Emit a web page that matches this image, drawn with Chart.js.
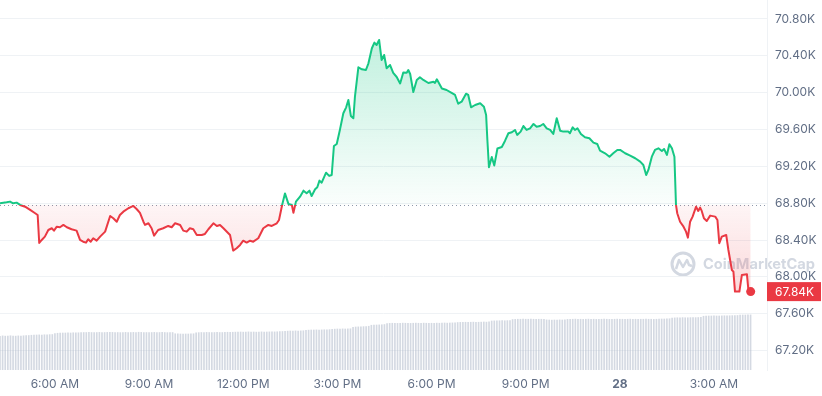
<!DOCTYPE html>
<html><head><meta charset="utf-8">
<script src="https://cdn.jsdelivr.net/npm/chart.js@4/dist/chart.umd.min.js"></script>
<style>html,body{margin:0;padding:0;background:#fff;overflow:hidden}canvas{display:block}</style>
</head><body>
<canvas id="c" width="822" height="396"></canvas>
<script>
// time in hours since 00:00 of the 27th (values > 24 belong to the 28th)
const priceTimes = [
4.25,4.46,4.57,4.67,4.78,4.89,5.05,5.21,5.37,5.45,
5.50,5.58,5.68,5.79,5.90,5.97,6.06,6.16,6.27,6.38,
6.53,6.69,6.80,6.90,6.99,7.06,7.14,7.22,7.33,7.44,
7.60,7.76,7.86,7.97,8.07,8.18,8.34,8.45,8.50,8.61,
8.71,8.82,8.87,8.98,9.08,9.16,9.29,9.45,9.61,9.72,
9.83,9.99,10.09,10.20,10.30,10.41,10.52,10.68,10.78,10.89,
11.05,11.16,11.26,11.37,11.58,11.68,11.79,11.90,12.00,12.11,
12.22,12.32,12.48,12.64,12.80,12.91,13.07,13.14,13.24,13.33,
13.44,13.55,13.60,13.68,13.81,13.92,14.02,14.11,14.18,14.29,
14.36,14.43,14.50,14.64,14.74,14.82,14.89,14.98,15.08,15.19,
15.28,15.35,15.43,15.51,15.56,15.67,15.78,15.91,15.99,16.10,
16.18,16.25,16.33,16.41,16.49,16.57,16.68,16.78,16.89,17.00,
17.10,17.21,17.26,17.32,17.42,17.53,17.63,17.74,17.90,18.06,
18.11,18.17,18.33,18.48,18.64,18.75,18.85,18.96,19.10,19.17,
19.26,19.39,19.55,19.67,19.74,19.78,19.83,19.92,20.00,20.10,
20.24,20.34,20.45,20.56,20.66,20.73,20.84,20.93,21.03,21.14,
21.25,21.35,21.46,21.56,21.67,21.78,21.88,21.99,22.10,22.20,
22.36,22.41,22.50,22.57,22.65,22.76,22.89,23.03,23.16,23.28,
23.37,23.53,23.67,23.79,23.92,24.01,24.17,24.33,24.49,24.65,
24.75,24.84,24.91,25.02,25.12,25.23,25.34,25.41,25.50,25.58,
25.66,25.74,25.79,25.83,25.92,26.03,26.11,26.17,26.24,26.32,
26.43,26.50,26.56,26.61,26.68,26.77,26.88,27.04,27.11,27.17,
27.25,27.39,27.46,27.57,27.62,27.67,27.81,27.89,28.05,28.10,
28.17];

const priceValues = [
68800,68810,68817,68799,68806,68781,68762,68727,68691,68672,
68368,68401,68437,68509,68528,68502,68545,68539,68564,68539,
68517,68502,68401,68382,68372,68408,68382,68419,68393,68437,
68491,68661,68636,68599,68672,68708,68745,68762,68770,68734,
68694,68599,68564,68582,68528,68448,68509,68528,68553,68539,
68582,68564,68502,68491,68528,68517,68455,68455,68466,68517,
68582,68553,68564,68528,68455,68285,68311,68347,68393,68372,
68393,68382,68419,68528,68564,68553,68582,68618,68781,68906,
68792,68781,68697,68817,68871,68936,68908,68936,68878,68951,
68973,69045,69023,69131,69096,69106,69421,69443,69595,69776,
69841,69921,69747,69722,69956,70276,70254,70246,70319,70482,
70543,70518,70572,70355,70409,70265,70300,70214,70170,70100,
70219,70217,70246,70203,70007,70138,70167,70138,70105,70119,
70105,70145,70045,70029,69997,69975,69880,69902,69989,69975,
69841,69866,69885,69848,69758,69486,69190,69302,69210,69394,
69410,69476,69559,69570,69595,69541,69577,69638,69595,69613,
69660,69631,69638,69660,69613,69595,69552,69722,69587,69577,
69577,69559,69624,69595,69613,69552,69516,69505,69457,69443,
69370,69342,69305,69342,69378,69378,69342,69316,69288,69251,
69215,69106,69161,69305,69378,69396,69367,69389,69324,69440,
69396,69305,68781,68691,68599,68545,68491,68426,68599,68654,
68762,68716,68752,68716,68636,68607,68665,68654,68618,68365,
68437,68455,68292,68075,68057,67840,67840,68021,68029,67847,
67840];

// 24h volume (billions USD), one bar per 5 minutes
const volumeStartHour = 4.25;
const volumeStepMinutes = 5;
const volumeValues = [
27.0,27.3,27.1,27.2,27.4,27.2,27.1,27.3,27.2,27.4,27.5,27.6,
27.8,27.9,28.0,28.1,28.0,28.2,28.1,28.3,28.4,
29.2,29.4,29.5,29.6,29.6,29.7,29.6,29.8,29.7,29.8,
29.9,30.0,30.0,30.1,30.0,29.9,30.0,30.1,30.0,30.0,30.1,30.2,30.1,30.0,30.0,29.9,30.0,30.1,30.0,30.0,30.1,30.0,30.2,30.1,30.0,30.0,29.9,30.0,30.1,30.0,30.0,30.1,30.0,29.9,30.0,30.0,
29.0,28.9,28.8,28.7,28.8,28.8,28.9,29.0,
29.8,29.9,30.0,30.0,30.1,30.0,29.9,30.0,30.1,30.0,30.0,30.1,30.2,30.1,30.2,
30.3,30.4,30.4,30.3,30.4,30.5,30.4,30.4,30.3,30.4,30.5,30.4,30.4,30.5,30.6,30.5,30.6,30.7,30.8,
31.0,31.1,31.2,31.2,31.3,31.2,31.3,31.4,
31.8,31.9,32.0,32.0,32.1,32.0,32.1,32.2,32.2,32.3,
32.6,32.7,32.8,32.8,32.9,32.8,32.9,33.0,
34.2,34.4,34.5,34.6,34.7,34.8,35.0,
35.8,35.9,36.0,36.1,36.2,36.4,
37.2,37.3,37.4,37.4,37.3,37.4,37.5,37.4,37.4,37.3,37.4,37.5,37.4,37.4,37.5,37.4,37.3,37.4,37.4,37.5,37.4,37.5,37.6,37.5,37.6,37.7,37.8,
38.0,38.1,38.2,38.2,38.1,38.2,38.3,38.2,38.2,38.3,38.4,38.3,38.5,
39.2,39.3,39.4,39.4,39.5,39.4,39.5,39.6,
40.4,40.5,40.6,40.6,40.7,40.6,40.6,40.7,40.6,40.5,40.6,40.6,40.5,
40.1,40.0,39.9,40.0,40.0,40.1,40.0,40.2,
40.5,40.6,40.6,40.7,40.6,40.6,40.5,40.6,40.7,40.6,40.6,40.5,40.6,40.6,40.7,40.6,40.5,40.6,40.6,40.7,
40.6,40.6,40.5,40.6,40.7,40.6,40.6,40.5,40.6,40.6,40.7,40.6,40.6,40.5,40.6,40.7,40.8,40.8,40.9,41.0,
41.6,41.7,41.8,41.8,41.9,41.8,41.8,41.9,42.0,41.9,42.0,42.1,
43.0,43.1,43.2,43.2,43.3,43.2,43.2,43.3,43.4,43.3,43.4,43.5,43.5,43.6,
43.9,44.0,44.0,44.1,44.1];

const baselinePrice = 68785;
const yTickValues = [67200,67600,68000,68400,68800,69200,69600,70000,70400,70800];
const xTickHours = [6,9,12,15,18,21,24,27];
const xTickLabels = ['6:00 AM','9:00 AM','12:00 PM','3:00 PM','6:00 PM','9:00 PM','28','3:00 AM'];

const GREEN = '#16c784', RED = '#ea3943';
const FONT = 'Inter, "Noto Sans", sans-serif';
const LABEL_COLOR = '#616e85';

const pricePoints = priceTimes.map((t, i) => ({x: t, y: priceValues[i]}));
const volumePoints = volumeValues.map((v, i) => ({x: volumeStartHour + i * volumeStepMinutes / 60, y: v}));
const lastIdx = priceValues.length - 1;

function baseFrac(chart) {
  const a = chart.chartArea;
  const yb = chart.scales.y.getPixelForValue(baselinePrice);
  return Math.min(1, Math.max(0, (yb - a.top) / (a.bottom - a.top)));
}
function lineColor(ctx) {
  const chart = ctx.chart; const a = chart.chartArea;
  if (!a) return GREEN;
  const f = baseFrac(chart);
  const g = chart.ctx.createLinearGradient(0, a.top, 0, a.bottom);
  g.addColorStop(0, GREEN); g.addColorStop(f, GREEN);
  g.addColorStop(f, RED); g.addColorStop(1, RED);
  return g;
}
function fillColor(ctx) {
  const chart = ctx.chart; const a = chart.chartArea;
  if (!a) return 'rgba(0,0,0,0)';
  const f = baseFrac(chart);
  const g = chart.ctx.createLinearGradient(0, a.top, 0, a.bottom);
  g.addColorStop(0, 'rgba(22,199,132,0.32)');
  g.addColorStop(f, 'rgba(22,199,132,0.02)');
  g.addColorStop(f, 'rgba(234,57,67,0.05)');
  g.addColorStop(Math.min(1, f + 0.25), 'rgba(234,57,67,0.2)');
  g.addColorStop(1, 'rgba(234,57,67,0.2)');
  return g;
}

const decorations = {
  id: 'decorations',
  beforeDraw(chart) {
    const c = chart.ctx;
    c.save();
    const col = '#d3d8e1';
    c.strokeStyle = col; c.lineWidth = 3;
    const cx = 683, cy = 264;
    c.beginPath(); c.arc(cx, cy, 11, 0, Math.PI * 2); c.stroke();
    c.lineWidth = 2.5; c.lineJoin = 'round';
    c.beginPath();
    c.moveTo(cx - 7, cy + 5); c.lineTo(cx - 4, cy - 4); c.lineTo(cx, cy + 3);
    c.lineTo(cx + 4, cy - 4); c.lineTo(cx + 6, cy + 1); c.lineTo(cx + 9, cy + 2);
    c.stroke();
    c.fillStyle = col;
    c.font = 'bold 16px ' + FONT;
    const w = c.measureText('CoinMarketCap').width;
    const size = 16 * 112 / w;
    c.font = 'bold ' + size.toFixed(2) + 'px ' + FONT;
    c.textBaseline = 'middle'; c.textAlign = 'left';
    c.fillText('CoinMarketCap', 703, 265);
    c.restore();
  },
  beforeDatasetsDraw(chart) {
    const c = chart.ctx, a = chart.chartArea;
    const y = Math.round(chart.scales.y.getPixelForValue(baselinePrice)) + 0.5;
    c.save();
    c.strokeStyle = '#8f99ab'; c.lineWidth = 1; c.setLineDash([1, 3]);
    c.beginPath(); c.moveTo(a.left, y); c.lineTo(a.right, y); c.stroke();
    c.restore();
  },
  afterDraw(chart) {
    const c = chart.ctx, a = chart.chartArea;
    const v = priceValues[lastIdx];
    const y = chart.scales.y.getPixelForValue(v);
    c.save();
    c.fillStyle = RED;
    c.fillRect(a.right, y - 9.5, chart.width - a.right - 1, 19);
    c.fillStyle = '#ffffff';
    c.font = '12px ' + FONT;
    c.textBaseline = 'middle'; c.textAlign = 'left';
    c.fillText((v / 1000).toFixed(2) + 'K', a.right + 8, y + 0.5);
    c.restore();
  }
};

function noPad(ax) { ax.paddingTop = 0; ax.paddingBottom = 0; ax.paddingLeft = 0; ax.paddingRight = 0; }

new Chart(document.getElementById('c'), {
  data: {
    datasets: [
      {
        type: 'line', label: 'Price', data: pricePoints, yAxisID: 'y', order: 1,
        borderColor: lineColor, backgroundColor: fillColor, borderWidth: 2,
        fill: {value: baselinePrice}, tension: 0, borderJoinStyle: 'round',
        pointRadius: ctx => ctx.dataIndex === lastIdx ? 4.5 : 0,
        pointBackgroundColor: RED, pointBorderWidth: 0, pointHoverRadius: 0,
        clip: 10
      },
      {
        type: 'bar', label: 'Volume', data: volumePoints, yAxisID: 'vol', order: 2,
        backgroundColor: 'rgba(176,186,202,0.55)', barThickness: 1, borderWidth: 0
      }
    ]
  },
  options: {
    responsive: false, animation: false, devicePixelRatio: 1,
    layout: {padding: 0, autoPadding: false},
    plugins: {legend: {display: false}, tooltip: {enabled: false}},
    scales: {
      x: {
        type: 'linear', position: 'bottom', min: 4.25, max: 28.69, offset: false,
        grid: {display: false, drawTicks: false}, border: {display: false},
        afterBuildTicks: ax => { ax.ticks = xTickHours.map(v => ({value: v})); },
        afterFit: ax => { ax.height = 26; noPad(ax); },
        ticks: {
          autoSkip: false, maxRotation: 0, padding: 7, color: LABEL_COLOR,
          font: ctx => ({family: FONT, size: 12, weight: (ctx.tick && ctx.tick.value === 24) ? 'bold' : 'normal'}),
          callback: (v, i) => xTickLabels[i]
        }
      },
      y: {
        type: 'linear', position: 'right', min: 66989, max: 71006,
        grid: {color: '#eff2f5', drawTicks: false},
        border: {display: true, color: '#eff2f5'},
        afterBuildTicks: ax => { ax.ticks = yTickValues.map(v => ({value: v})); },
        afterFit: ax => { ax.width = 55; noPad(ax); },
        ticks: {
          padding: 8, color: LABEL_COLOR, font: {family: FONT, size: 12},
          callback: v => (v / 1000).toFixed(2) + 'K'
        }
      },
      vol: {type: 'linear', display: false, min: 0, max: 296, grid: {display: false}}
    }
  },
  plugins: [decorations]
});
</script>
</body></html>
